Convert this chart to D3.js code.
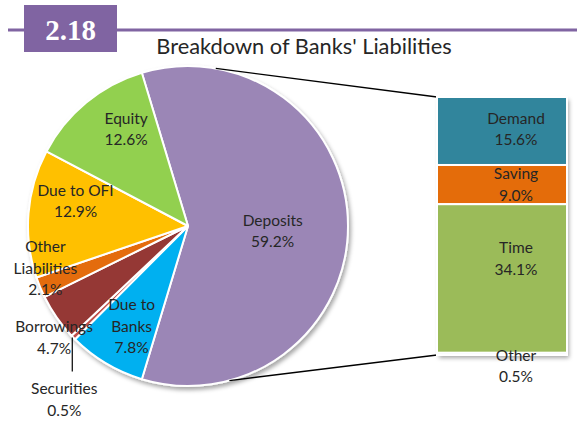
<!DOCTYPE html>
<html><head><meta charset="utf-8">
<script src="https://cdn.jsdelivr.net/npm/d3@7"></script>
<style>body{margin:0;background:#fff}svg{display:block}</style>
</head><body>
<svg id="c" width="577" height="421"></svg>
<script>
// ---- data ----
const pieCategories = ["Deposits","Due to Banks","Securities","Borrowings","Other Liabilities","Due to OFI","Equity"];
const pieValues = [59.2, 7.8, 0.5, 4.7, 2.1, 12.9, 12.6];
const pieLabels = [["Deposits","59.2%"],["Due to","Banks","7.8%"],["Securities","0.5%"],["Borrowings","4.7%"],["Other","Liabilities","2.1%"],["Due to OFI","12.9%"],["Equity","12.6%"]];
const barCategories = ["Demand","Saving","Time","Other"];
const barValues = [15.6, 9.0, 34.1, 0.5];
const barLabels = [["Demand","15.6%"],["Saving","9.0%"],["Time","34.1%"],["Other","0.5%"]];
const chartNumber = "2.18";
const chartTitle = "Breakdown of Banks' Liabilities";

// ---- style / layout ----
const pieColors = ["#9B86B6","#00B0F0","#C0504D","#953735","#E46C0A","#FFC000","#92D050"];
const barColors = ["#31859C","#E46C0A","#9BBB59","#DCE6F2"];
// label placement: [radius factor, angle offset from slice mid (deg)]
const pieLabelPlace = [[0.53,3.4],[0.72,-1.5],[null,0],[1.09,-5],[0.93,6],[0.72,8],[0.72,7]];
const barLabelShift = [-2, 0, -20, 1];

const svg = d3.select("#c");
const defs = svg.append("defs");
const f = defs.append("filter").attr("id","sh").attr("x","-20%").attr("y","-20%").attr("width","150%").attr("height","150%");
f.append("feDropShadow").attr("dx",2).attr("dy",3).attr("stdDeviation",2).attr("flood-color","#000").attr("flood-opacity",0.35);

// header
svg.append("rect").attr("x",8).attr("y",28.5).attr("width",569).attr("height",3).attr("fill","#8064A2");
svg.append("rect").attr("x",24).attr("y",5).attr("width",93).attr("height",47).attr("fill","#8064A2");
svg.append("text").attr("x",70.5).attr("y",40).attr("text-anchor","middle")
  .attr("font-family","Liberation Serif").attr("font-weight","bold").attr("font-size",29).attr("fill","#fff").text(chartNumber);
svg.append("text").attr("x",304).attr("y",54).attr("text-anchor","middle")
  .attr("font-family","Lato").attr("font-size",21.8).attr("fill","#262626").text(chartTitle);

const font = "Lato", fs = 15.5, lh = 21.5, txt = "#262626";

// pie
const cx = 188, cy = 226, r = 160;
const total = d3.sum(pieValues);
const start = Math.PI/2 - (pieValues[0]/total)*Math.PI;
const pie = d3.pie().sort(null).startAngle(start).endAngle(start + 2*Math.PI);
const arcs = pie(pieValues);
const arc = d3.arc().innerRadius(0).outerRadius(r);
const g = svg.append("g").attr("transform",`translate(${cx},${cy})`);
g.append("g").attr("filter","url(#sh)").selectAll("path").data(arcs).join("path")
  .attr("d",arc).attr("fill",(d,i)=>pieColors[i]).attr("stroke","#fff").attr("stroke-width",2).attr("stroke-linejoin","round");

// series lines to bar
const barX = 437, barW = 130;
const y = d3.scaleLinear().domain([0, d3.sum(barValues)]).range([97, 355]);
const a1 = 10*Math.PI/180, a2 = 165*Math.PI/180;
svg.append("line").attr("x1",cx+r*Math.sin(a1)).attr("y1",cy-r*Math.cos(a1)).attr("x2",barX).attr("y2",y(0))
  .attr("stroke","#000").attr("stroke-width",1.3);
svg.append("line").attr("x1",cx+r*Math.sin(a2)).attr("y1",cy-r*Math.cos(a2)).attr("x2",barX).attr("y2",y(d3.sum(barValues)))
  .attr("stroke","#000").attr("stroke-width",1.3);

// pie labels
arcs.forEach((d,i)=>{
  const lines = pieLabels[i];
  let lx, ly;
  const mid = (d.startAngle+d.endAngle)/2;
  if (pieLabelPlace[i][0] === null) {
    const ex = r*Math.sin(mid), ey = -r*Math.cos(mid);
    g.append("line").attr("x1",ex-1).attr("y1",ey).attr("x2",ex-1).attr("y2",ey+34).attr("stroke","#000").attr("stroke-width",1.2);
    lx = ex - 9; ly = ey + 62;
  } else {
    const a = mid + pieLabelPlace[i][1]*Math.PI/180;
    const rr = r*pieLabelPlace[i][0];
    lx = rr*Math.sin(a); ly = -rr*Math.cos(a);
  }
  const t = g.append("text").attr("text-anchor","middle").attr("font-family",font).attr("font-size",fs).attr("fill",txt);
  const n = lines.length;
  lines.forEach((s,k)=>{
    t.append("tspan").attr("x",lx).attr("y",ly + (k-(n-1)/2)*lh + fs*0.35).text(s);
  });
});

// bar of pie
const stack = [];
let acc = 0;
barValues.forEach(v=>{stack.push([acc, acc+v]); acc+=v;});
const bg = svg.append("g");
bg.append("rect").attr("x",barX).attr("y",y(0)).attr("width",barW).attr("height",y(acc)-y(0))
  .attr("fill","#fff").attr("filter","url(#sh)");
bg.selectAll("rect.seg").data(stack).join("rect").attr("class","seg")
  .attr("x",barX).attr("y",d=>y(d[0])).attr("width",barW).attr("height",d=>y(d[1])-y(d[0]))
  .attr("fill",(d,i)=>barColors[i]).attr("stroke","#fff").attr("stroke-width",2);
stack.forEach((d,i)=>{
  const my = (y(d[0])+y(d[1]))/2 + barLabelShift[i] + (i===3?11:0);
  const t = svg.append("text").attr("text-anchor","middle").attr("font-family",font).attr("font-size",fs).attr("fill",txt);
  barLabels[i].forEach((s,k)=>{
    t.append("tspan").attr("x",barX+79).attr("y",my + (k-0.5)*lh + fs*0.35).text(s);
  });
});
</script>
</body></html>
